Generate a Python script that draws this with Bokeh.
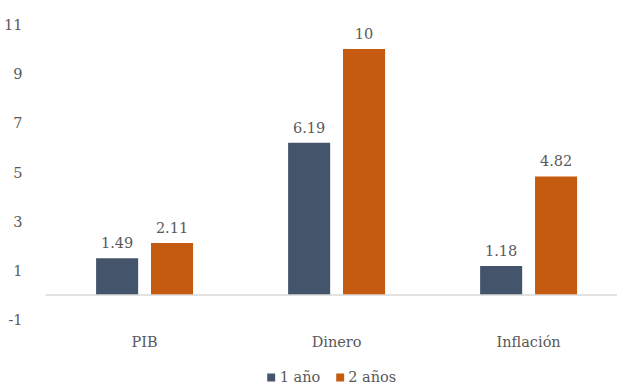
from bokeh.plotting import figure
from bokeh.layouts import column
from bokeh.models import (Range1d, FixedTicker, Span, Legend, LegendItem,
                          ColumnDataSource)
from bokeh.transform import dodge
from bokeh.core.properties import value
from bokeh.embed import file_html
from bokeh.resources import INLINE

categories = ["PIB", "Dinero", "Inflación"]
series_names = ["1 año", "2 años"]
one_year = [1.49, 6.19, 1.18]
two_years = [2.11, 10, 4.82]
y_ticks = [-1, 1, 3, 5, 7, 9, 11]

FONT = "DejaVu Serif"
GRAY = "#595959"
C1 = "#44546A"
C2 = "#C55A11"

idx = list(range(len(categories)))
src = ColumnDataSource(dict(
    x=idx, cat=categories, v1=one_year, v2=two_years,
    l1=[f"{v:g}" for v in one_year], l2=[f"{v:g}" for v in two_years],
))

p = figure(width=617, height=355, output_backend="svg",
           toolbar_location=None,
           x_range=Range1d(-0.516, 2.463), y_range=Range1d(-1, 11),
           min_border_top=24, min_border_left=45, min_border_right=0,
           min_border_bottom=36)
p.outline_line_color = None
p.grid.visible = False
p.background_fill_color = "white"
p.border_fill_color = "white"

off = 0.143
w = 0.219
p.vbar(x=dodge("x", -off, range=p.x_range), top="v1", width=w, bottom=0,
       source=src, fill_color=C1, line_color=None)
p.vbar(x=dodge("x", off, range=p.x_range), top="v2", width=w, bottom=0,
       source=src, fill_color=C2, line_color=None)

for xs, col in ((-off, "l1"), (off, "l2")):
    yc = "v1" if col == "l1" else "v2"
    p.text(x=dodge("x", xs, range=p.x_range), y=yc, text=col, source=src,
           text_align="center", text_baseline="bottom", y_offset=-10,
           text_font=value(FONT), text_font_size="14.5px", text_color=GRAY)

p.add_layout(Span(location=0, dimension="width", line_color="#D9D9D9",
                  line_width=1.5))

p.yaxis.ticker = FixedTicker(ticks=y_ticks)
p.yaxis.major_label_overrides = {t: str(t) for t in y_ticks}
p.yaxis.axis_line_color = None
p.yaxis.major_tick_line_color = None
p.yaxis.minor_tick_line_color = None
p.yaxis.major_label_standoff = 17
p.yaxis.major_label_text_font = FONT
p.yaxis.major_label_text_font_size = "14.5px"
p.yaxis.major_label_text_color = GRAY

p.xaxis.ticker = FixedTicker(ticks=idx)
p.xaxis.major_label_overrides = {i: c for i, c in zip(idx, categories)}
p.xaxis.axis_line_color = None
p.xaxis.major_tick_line_color = None
p.xaxis.major_tick_in = 0
p.xaxis.major_tick_out = 0
p.xaxis.minor_tick_line_color = None
p.xaxis.major_label_standoff = 14
p.xaxis.major_label_text_font = FONT
p.xaxis.major_label_text_font_size = "14.5px"
p.xaxis.major_label_text_color = GRAY

# legend strip below the chart (its bars lie outside its visible range)
lg = figure(width=617, height=31, output_backend="svg", toolbar_location=None,
            x_range=Range1d(100, 101), y_range=Range1d(100, 101),
            x_axis_location=None, y_axis_location=None,
            min_border=0)
lg.outline_line_color = None
lg.grid.visible = False
lg.border_fill_color = "white"
k1 = lg.vbar(x="x", top="v1", width=w, source=src,
             fill_color=C1, line_color=None)
k2 = lg.vbar(x="x", top="v2", width=w, source=src,
             fill_color=C2, line_color=None)
legend = Legend(items=[LegendItem(label=series_names[0], renderers=[k1]),
                       LegendItem(label=series_names[1], renderers=[k2])],
                orientation="horizontal", location="bottom_center",
                label_text_font=FONT, label_text_font_size="14.5px",
                label_text_color=GRAY, glyph_width=10, glyph_height=10,
                label_standoff=4, spacing=14, padding=0, margin=1,
                label_height=14,
                border_line_color=None, background_fill_alpha=0)
lg.add_layout(legend)

layout = column(p, lg, spacing=0)
open("out.html", "w").write(file_html(layout, INLINE))
